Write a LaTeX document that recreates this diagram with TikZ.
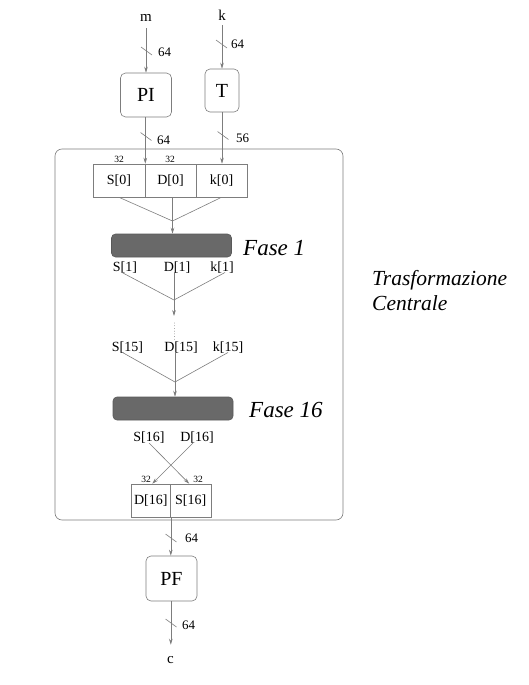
\documentclass[tikz,border=0pt]{standalone}
\usepackage{fontspec}
\setmainfont{Liberation Serif}
\usetikzlibrary{arrows.meta}
\definecolor{lncol}{RGB}{125,125,125}
\definecolor{barcol}{RGB}{105,105,105}
\newcommand\bittick[2]{\draw[ln] (#1,#2) ++(-5.5,-4) -- ++(11,8);}
\begin{document}
\begin{tikzpicture}[x=1pt,y=-1pt,
  ln/.style={draw=lncol, line width=0.6pt},
  arr/.style={ln, -{Stealth[length=6pt,width=3.6pt]}},
  rbox/.style={draw=lncol, line width=0.6pt, rounded corners=5pt, inner sep=0pt, font=\fontsize{20}{20}\selectfont},
  cell/.style={draw=lncol, line width=0.6pt, inner sep=0pt, minimum height=33pt, font=\fontsize{14}{14}\selectfont},
  barbox/.style={fill=barcol, draw=barcol!85!black, line width=0.6pt, rounded corners=4pt, minimum width=120pt, minimum height=23pt, inner sep=0pt},
  lbl/.style={font=\fontsize{14}{14}\selectfont, inner sep=0pt},
  io/.style={font=\fontsize{15}{15}\selectfont, inner sep=0pt, anchor=base},
  num/.style={font=\fontsize{13}{13}\selectfont, inner sep=0pt, anchor=west},
  sm/.style={font=\fontsize{9.5}{9.5}\selectfont, inner sep=0pt},
  fase/.style={font=\fontsize{23}{23}\selectfont\itshape, inner sep=0pt, anchor=base west},
  side/.style={font=\fontsize{21.5}{21.5}\selectfont\itshape, inner sep=0pt, anchor=base west},
]
\useasboundingbox (0,0) rectangle (528,685);

% central frame
\node[draw=lncol, line width=0.6pt, rounded corners=7pt, minimum width=288pt, minimum height=371pt, inner sep=0pt] (TC) at (199,334.5) {};

% inputs
\node[io] (m) at (146,22) {m};
\node[io] (k) at (222,21) {k};
\node[rbox, minimum width=51pt, minimum height=44pt] (PI) at (146,95) {PI};
\node[rbox, minimum width=34pt, minimum height=43pt] (T) at (222,90.5) {T};

\draw[arr, shorten <=6pt] (m.south) -- (m.south |- PI.north);
\draw[arr, shorten <=4pt] (k.south) -- (k.south |- T.north);
\bittick{146.5}{51}
\node[num] (n1) at (158,52) {64};
\bittick{221.5}{44}
\node[num] (n2) at (231,44) {64};

% register 0
\node[cell, minimum width=52pt] (S0) at (119,180.5) {S[0]};
\node[cell, minimum width=51pt] (D0) at (170.5,180.5) {D[0]};
\node[cell, minimum width=51pt] (K0) at (221.5,180.5) {k[0]};
\node[sm] (b1) at (119,159) {32};
\node[sm] (b2) at (170,159) {32};

\draw[arr] (PI.south -| S0.north east) -- (S0.north east);
\draw[arr] (T.south) -- (T.south |- K0.north);
\bittick{146}{136.5}
\node[num] (n3) at (157,140) {64};
\bittick{223}{135.5}
\node[num] (n4) at (236,138) {56};

% phase 1
\node[barbox] (F1) at (171.5,245.5) {};
\node[fase] (F1l) at (243,255) {Fase 1};
\coordinate (j0) at (172.5,221);
\draw[ln] (S0.south) -- (j0) -- (K0.south);
\draw[arr] (D0.south -| j0) -- (j0 |- F1.north);

\node[lbl] (S1) at (125,267.5) {S[1]};
\node[lbl] (D1) at (177,267.5) {D[1]};
\node[lbl] (K1) at (222,267.5) {k[1]};
\coordinate (j1) at (174,300);
\coordinate (e1) at (174,316);
\draw[ln] ([xshift=-3pt,yshift=1pt]S1.south) -- (j1) -- ([xshift=3pt,yshift=1pt]K1.south);
\draw[arr] ([yshift=1pt]D1.south -| j1) -- (e1);
\draw[ln, line cap=round, dash pattern=on 0.1pt off 2.6pt] (174,323) -- (174,340);

% phase 16
\node[lbl] (S15) at (127.5,347.5) {S[15]};
\node[lbl] (D15) at (181,347.5) {D[15]};
\node[lbl] (K15) at (228,347.5) {k[15]};
\node[barbox] (F16) at (173,408.5) {};
\node[fase] (F16l) at (249,417) {Fase 16};
\coordinate (j15) at (175,382);
\draw[ln] ([xshift=-5pt,yshift=1pt]S15.south) -- (j15) -- ([yshift=1pt]K15.south);
\draw[arr] ([yshift=1pt]D15.south -| j15) -- (j15 |- F16.north);

% swap
\node[lbl] (S16) at (149,438) {S[16]};
\node[lbl] (D16) at (197,438) {D[16]};
\node[cell, minimum width=39.5pt] (D16o) at (150.75,500.5) {D[16]};
\node[cell, minimum width=40.5pt] (S16o) at (190.75,500.5) {S[16]};
\node[sm] (b3) at (146,479) {32};
\node[sm] (b4) at (198,479) {32};
\draw[arr] ([yshift=1pt]S16.south) -- ([xshift=-1.5pt]S16o.north);
\draw[arr] ([xshift=-4pt,yshift=1pt]D16.south) -- ([xshift=1.5pt]D16o.north);

% final permutation
\node[rbox, minimum width=51pt, minimum height=45pt] (PF) at (171.5,578.5) {PF};
\draw[arr] (D16o.south east) -- (D16o.south east |- PF.north);
\bittick{171}{538}
\node[num] (n5) at (185,538.5) {64};

\node[io] (c) at (170.5,663) {c};
\draw[arr, shorten >=11pt] (PF.south -| D16o.south east) -- (D16o.south east |- c.north);
\bittick{171}{623}
\node[num] (n6) at (182,625) {64};

% side label
\node[side] (tc1) at (372,285) {Trasformazione};
\node[side] (tc2) at (372,310) {Centrale};
\end{tikzpicture}
\end{document}
